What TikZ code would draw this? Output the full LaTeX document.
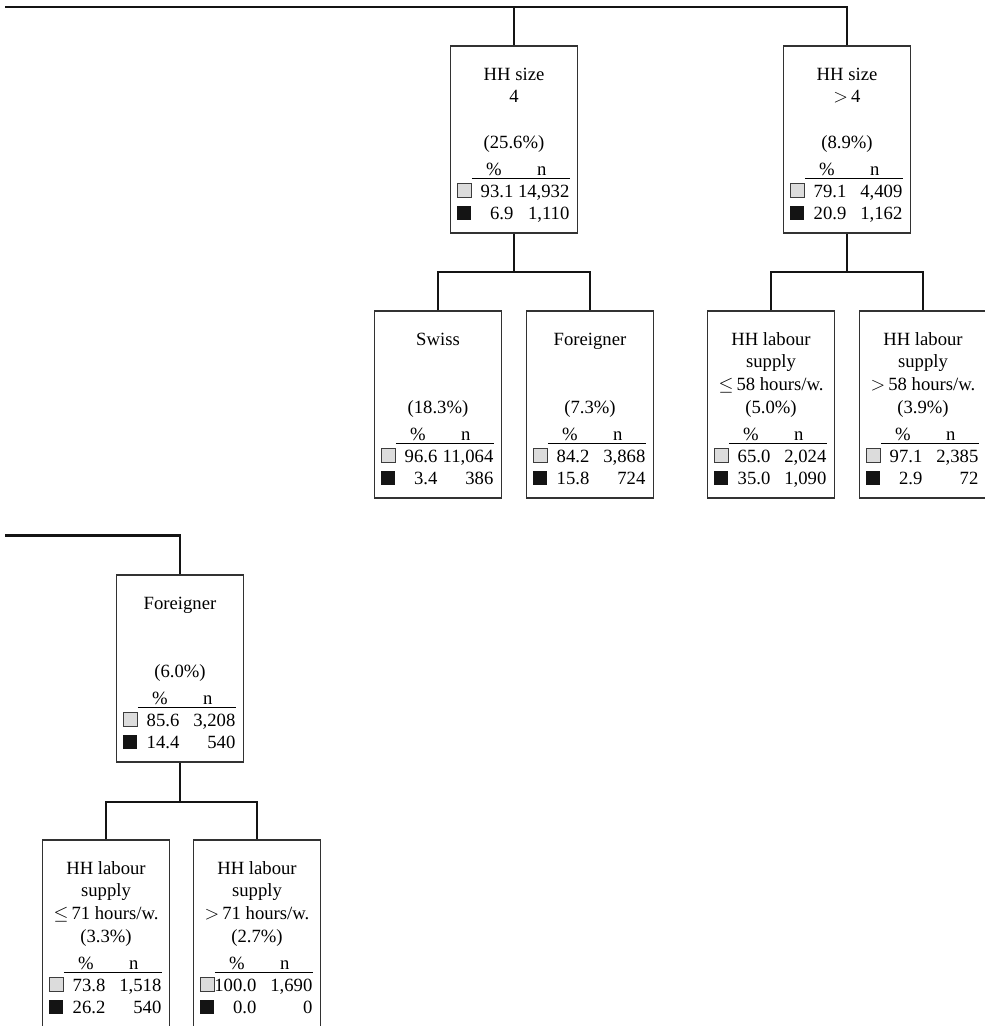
\documentclass[tikz,border=0pt]{standalone}
\usepackage{fontspec}
\setmainfont{Liberation Serif}
\tikzset{every picture/.style={line width=0.75pt}}
\tikzset{
  cellbox/.style={draw={rgb, 255:red, 50; green, 50; blue, 50 }, line width=1pt, minimum width=95.25pt, minimum height=140.25pt, inner sep=0pt},
  conn/.style={line width=2.1pt, color={rgb, 255:red, 20; green, 20; blue, 20 }},
  txt/.style={anchor=base, inner sep=0pt, font=\fontsize{14}{17}\selectfont},
  val/.style={txt, anchor=base east},
  lightsq/.style={draw={rgb, 255:red, 60; green, 60; blue, 60 }, line width=0.6pt, fill={rgb, 255:red, 220; green, 220; blue, 220 }},
  darksq/.style={fill={rgb, 255:red, 20; green, 20; blue, 20 }},
  rulel/.style={line width=0.9pt}
}
% title lines of a box
\newcommand{\celltext}[4]{%
  \path (#1.north) ++(0,35) node[txt] {#2} ++(0,22.5) node[txt] {#3} ++(0,22.5) node[txt] {#4};}
% share and table of a box
\newcommand{\cellstats}[6]{%
  \path (#1.north) ++(0,103) node[txt] {(#2)};
  \path (#1.north west) ++(44,130) node[txt] {\%} ++(48,0) node[txt] {n};
  \draw[rulel] (#1.north west) ++(22,133) -- ++(98,0);
  \draw[lightsq] (#1.north west) ++(7.5,138.5) rectangle ++(14,14);
  \fill[darksq] (#1.north west) ++(7.5,160.5) rectangle ++(14,14);
  \path (#1.north west) ++(64,152) node[val] {#3} ++(56,0) node[val] {#4};
  \path (#1.north west) ++(64,174) node[val] {#5} ++(56,0) node[val] {#6};}

\begin{document}
\begin{tikzpicture}[x=0.75pt,y=0.75pt,yscale=-1,xscale=1]
\useasboundingbox (0,0) rectangle (985,1026);
\clip (0,0) rectangle (985,1026);

% Boxes
\node[cellbox] (hhfour) at (514,139.5) {};
\node[cellbox] (hhmore) at (847,139.5) {};
\node[cellbox] (swiss) at (438,404.5) {};
\node[cellbox] (forgnA) at (590,404.5) {};
\node[cellbox] (laborA) at (771,404.5) {};
\node[cellbox] (laborB) at (923,404.5) {};
\node[cellbox] (forgnB) at (180,668.5) {};
\node[cellbox] (laborC) at (106,933.5) {};
\node[cellbox] (laborD) at (257,933.5) {};

% Coordinates
\coordinate (topA) at (5,7);
\coordinate (topB) at (5,535.5);
\coordinate (barA) at (514,272);
\coordinate (barB) at (847,272);
\coordinate (barC) at (180,802);

%Straight Lines
\draw[conn] (topA) -| (hhmore.north);
\draw[conn] (hhfour.north) -- (hhfour.north |- topA);
\draw[conn] (topB) -| (forgnB.north);
\draw[conn] (hhfour.south) -- (barA);
\draw[conn] (swiss.north) |- (barA) -| (forgnA.north);
\draw[conn] (hhmore.south) -- (barB);
\draw[conn] (laborA.north) |- (barB) -| (laborB.north);
\draw[conn] (forgnB.south) -- (barC);
\draw[conn] (laborC.north) |- (barC) -| (laborD.north);

% Text Node
\celltext{hhfour}{HH size}{4}{}
\cellstats{hhfour}{25.6\%}{93.1}{14,932}{6.9}{1,110}
\celltext{hhmore}{HH size}{$>$\,4}{}
\cellstats{hhmore}{8.9\%}{79.1}{4,409}{20.9}{1,162}
\celltext{swiss}{Swiss}{}{}
\cellstats{swiss}{18.3\%}{96.6}{11,064}{3.4}{386}
\celltext{forgnA}{Foreigner}{}{}
\cellstats{forgnA}{7.3\%}{84.2}{3,868}{15.8}{724}
\celltext{laborA}{HH labour}{supply}{$\leq$\,58 hours/w.}
\cellstats{laborA}{5.0\%}{65.0}{2,024}{35.0}{1,090}
\celltext{laborB}{HH labour}{supply}{$>$\,58 hours/w.}
\cellstats{laborB}{3.9\%}{97.1}{2,385}{2.9}{72}
\celltext{forgnB}{Foreigner}{}{}
\cellstats{forgnB}{6.0\%}{85.6}{3,208}{14.4}{540}
\celltext{laborC}{HH labour}{supply}{$\leq$\,71 hours/w.}
\cellstats{laborC}{3.3\%}{73.8}{1,518}{26.2}{540}
\celltext{laborD}{HH labour}{supply}{$>$\,71 hours/w.}
\cellstats{laborD}{2.7\%}{100.0}{1,690}{0.0}{0}

\end{tikzpicture}
\end{document}
